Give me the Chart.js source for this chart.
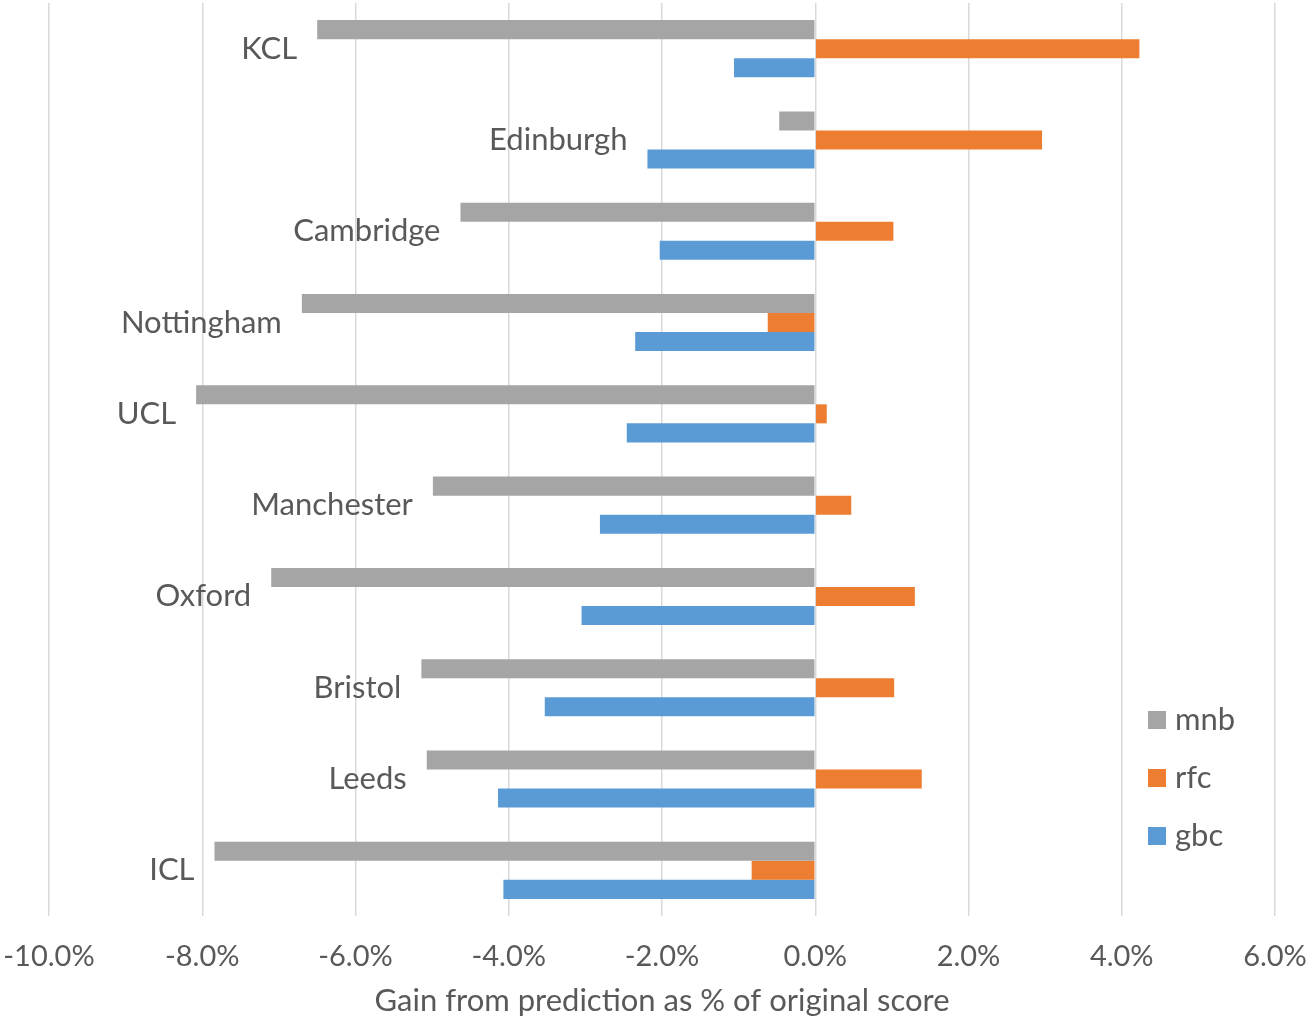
<!DOCTYPE html>
<html>
<head>
<meta charset="utf-8">
<script src="https://cdn.jsdelivr.net/npm/chart.js@4"></script>
<style>
  html, body { margin: 0; padding: 0; background: #ffffff; }
  #wrap { width: 1309px; height: 1025px; }
</style>
</head>
<body>
<div id="wrap"><canvas id="gain-chart" width="1309" height="1025"></canvas></div>
<script>
// Data (values in %)
const universities = ['KCL', 'Edinburgh', 'Cambridge', 'Nottingham', 'UCL', 'Manchester', 'Oxford', 'Bristol', 'Leeds', 'ICL'];
const mnbGain = [-6.50, -0.47, -4.63, -6.70, -8.08, -4.99, -7.10, -5.14, -5.07, -7.84];
const rfcGain = [4.23, 2.96, 1.02, -0.62, 0.15, 0.47, 1.30, 1.03, 1.39, -0.83];
const gbcGain = [-1.06, -2.19, -2.03, -2.35, -2.46, -2.81, -3.05, -3.53, -4.14, -4.07];
const seriesNames = ['mnb', 'rfc', 'gbc'];
const axisMin = -10;
const axisMax = 6;
const axisStep = 2;
const axisTitle = 'Gain from prediction as % of original score';

const textColor = '#595959';
const fontFamily = 'Lato, "Open Sans", sans-serif';
const tickFontSize = 29;
const labelFontSize = 31;

// Category labels sit just left of the lowest bar of each group
const categoryLabelPlugin = {
    id: 'categoryLabels',
    afterDatasetsDraw(chart) {
        const ctx = chart.ctx;
        const xScale = chart.scales.x;
        const yScale = chart.scales.y;
        ctx.save();
        ctx.font = labelFontSize + 'px ' + fontFamily;
        ctx.fillStyle = textColor;
        ctx.textAlign = 'right';
        ctx.textBaseline = 'middle';
        universities.forEach((name, i) => {
            const low = Math.min(0, mnbGain[i], rfcGain[i], gbcGain[i]);
            const x = xScale.getPixelForValue(low) - 20;
            const y = yScale.getPixelForValue(i);
            ctx.fillText(name, x, y);
        });
        ctx.restore();
    }
};

// Legend drawn inside the plot, lower right, like the Excel original
const sideLegendPlugin = {
    id: 'sideLegend',
    afterDraw(chart) {
        const ctx = chart.ctx;
        const left = 1148;
        const top = 720;
        const gap = 58;
        const box = 18;
        ctx.save();
        ctx.font = labelFontSize + 'px ' + fontFamily;
        ctx.textAlign = 'left';
        ctx.textBaseline = 'middle';
        chart.data.datasets.forEach((ds, i) => {
            const y = top + i * gap;
            ctx.fillStyle = ds.backgroundColor;
            ctx.fillRect(left, y - box / 2, box, box);
            ctx.fillStyle = textColor;
            ctx.fillText(ds.label, left + box + 9, y);
        });
        ctx.restore();
    }
};

function buildChart() {
    const ctx = document.getElementById('gain-chart');
    return new Chart(ctx, {
        type: 'bar',
        data: {
            labels: universities,
            datasets: [
                { label: seriesNames[0], data: mnbGain, backgroundColor: '#A5A5A5' },
                { label: seriesNames[1], data: rfcGain, backgroundColor: '#ED7D31' },
                { label: seriesNames[2], data: gbcGain, backgroundColor: '#5B9BD5' }
            ]
        },
        options: {
            indexAxis: 'y',
            responsive: false,
            animation: false,
            layout: {
                padding: { top: 3, left: 49, right: 34, bottom: 5 }
            },
            datasets: {
                bar: {
                    categoryPercentage: 0.625,
                    barPercentage: 1.0,
                    borderWidth: 0
                }
            },
            scales: {
                x: {
                    min: axisMin,
                    max: axisMax,
                    border: { display: false },
                    grid: {
                        color: '#D9D9D9',
                        lineWidth: 1.5,
                        drawTicks: false
                    },
                    ticks: {
                        stepSize: axisStep,
                        padding: 23,
                        color: textColor,
                        font: { family: fontFamily, size: tickFontSize },
                        callback: function(value) {
                            return value.toFixed(1) + '%';
                        }
                    },
                    title: {
                        display: true,
                        text: axisTitle,
                        color: textColor,
                        font: { family: fontFamily, size: labelFontSize },
                        padding: { top: -14, bottom: 0 }
                    },
                    afterFit: function(scale) {
                        scale.paddingLeft = 0;
                        scale.paddingRight = 0;
                    }
                },
                y: {
                    display: false
                }
            },
            plugins: {
                legend: { display: false },
                tooltip: { enabled: false }
            }
        },
        plugins: [categoryLabelPlugin, sideLegendPlugin]
    });
}

buildChart();
</script>
</body>
</html>
